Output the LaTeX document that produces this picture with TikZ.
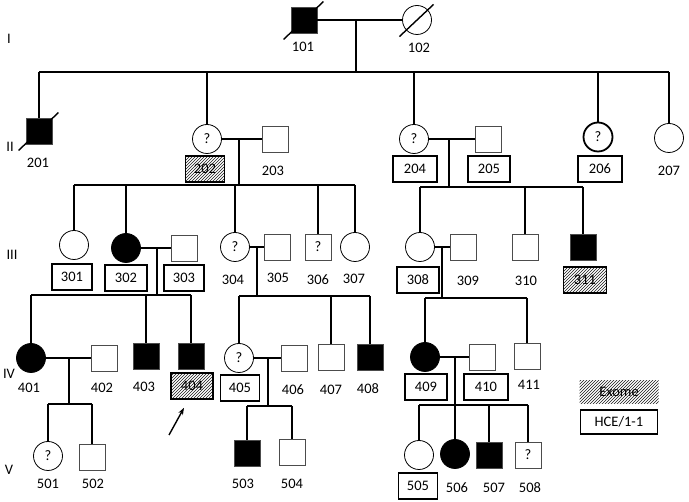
\documentclass[tikz,border=0pt]{standalone}
\usepackage{fontspec}
\setmainfont{Carlito}
\usetikzlibrary{arrows.meta,patterns}
\newcommand{\deceased}[1]{\draw[line width=1.4pt] ([shift={(-7,6)}]#1.south west) -- ([shift={(6,-5)}]#1.north east);}

\begin{document}
\begin{tikzpicture}[x=1pt, y=-1pt, font=\fontsize{14.5}{17}\selectfont,
  ind/.style={draw=black!70, line width=0.8pt, inner sep=0pt},
  male/.style={ind, rectangle, minimum size=26pt},
  female/.style={ind, circle, draw=black, minimum size=29pt},
  aff/.style={fill=black},
  idbox/.style={draw, line width=1.6pt, minimum width=42pt, minimum height=26pt, inner sep=0pt},
  exome/.style={idbox, pattern=north east lines, pattern color=black!90},
  lbl/.style={inner sep=0pt},
  gen/.style={inner sep=0pt},
  ln/.style={line width=1.7pt}]
  \useasboundingbox (0,0) rectangle (689,502);

  % generation labels
  \node[gen] (gI) at (9,39) {I};
  \node[gen] (gII) at (10,147) {II};
  \node[gen] (gIII) at (12,255) {III};
  \node[gen] (gIV) at (9,374) {IV};
  \node[gen] (gV) at (9,470) {V};

  % generation I
  \node[male, aff] (p101) at (304,20) {};
  \node[female] (p102) at (417,20) {};
  \node[lbl] (l101) at (303,47) {101};
  \node[lbl] (l102) at (419,48) {102};
  \deceased{p101}
  \deceased{p102}
  \coordinate (m1) at (356,20);
  \coordinate (s1) at (356,72);
  \draw[ln] (p101) -- (p102);
  \draw[ln] (m1) -- (s1);

  % generation II
  \node[male, aff] (p201) at (39,131) {};
  \node[lbl] (l201) at (38,163) {201};
  \deceased{p201}
  \node[female] (p202) at (207,139) {?};
  \node[exome, minimum width=39pt] (b202) at (205,169) {202};
  \node[male] (p203) at (275,139) {};
  \node[lbl] (l203) at (273,171) {203};
  \node[female] (p204) at (414,139) {?};
  \node[idbox, minimum width=44pt] (b204) at (415,169) {204};
  \node[male] (p205) at (488,139) {};
  \node[idbox] (b205) at (489,169) {205};
  \node[female, line width=1.8pt] (p206) at (598,137) {?};
  \node[idbox, minimum width=44pt] (b206) at (600,169) {206};
  \node[female] (p207) at (669,138) {};
  \node[lbl] (l207) at (669,171) {207};
  \draw[ln] (p201 |- s1) -- (p207 |- s1);
  \draw[ln] (p201 |- s1) -- (p201) (p202 |- s1) -- (p202)
    (p204 |- s1) -- (p204) (p206 |- s1) -- (p206) (p207 |- s1) -- (p207);

  \coordinate (m202) at (239,139);
  \coordinate (s202) at (239,185);
  \coordinate (m204) at (449,139);
  \coordinate (s204) at (449,187);
  \draw[ln] (p202) -- (p203);
  \draw[ln] (m202) -- (s202);
  \draw[ln] (p204) -- (p205);
  \draw[ln] (m204) -- (s204);

  % generation III
  \node[female] (p301) at (74,245) {};
  \node[idbox, minimum width=40pt] (b301) at (72,277) {301};
  \node[female, aff] (p302) at (126,248) {};
  \node[idbox] (b302) at (126,278) {302};
  \node[male] (p303) at (184,248) {};
  \node[idbox, minimum width=40pt] (b303) at (184,278) {303};
  \node[female] (p304) at (235,247) {?};
  \node[lbl] (l304) at (233,280) {304};
  \node[male] (p305) at (277,247) {};
  \node[lbl] (l305) at (278,278) {305};
  \node[male] (p306) at (318,247) {?};
  \node[lbl] (l306) at (318,280) {306};
  \node[female] (p307) at (355,247) {};
  \node[lbl] (l307) at (354,279) {307};
  \node[female] (p308) at (420,247) {};
  \node[idbox] (b308) at (418,280) {308};
  \node[male] (p309) at (463,247) {};
  \node[lbl] (l309) at (468,281) {309};
  \node[male] (p310) at (525,247) {};
  \node[lbl] (l310) at (526,281) {310};
  \node[male, aff] (p311) at (583,247) {};
  \node[exome, minimum width=43pt] (b311) at (585,280) {311};
  \draw[ln] (p301 |- s202) -- (p307 |- s202);
  \draw[ln] (p301 |- s202) -- (p301) (p302 |- s202) -- (p302)
    (p304 |- s202) -- (p304) (p306 |- s202) -- (p306) (p307 |- s202) -- (p307);
  \draw[ln] (p308 |- s204) -- (p311 |- s204);
  \draw[ln] (p308 |- s204) -- (p308) (p310 |- s204) -- (p310) (p311 |- s204) -- (p311);

  \coordinate (m302) at (157,248);
  \coordinate (s302) at (157,295);
  \coordinate (m304) at (257,247);
  \coordinate (s304) at (257,296);
  \coordinate (m308) at (442,247);
  \coordinate (s308) at (442,298);
  \draw[ln] (p302) -- (p303);
  \draw[ln] (m302) -- (s302);
  \draw[ln] (p304) -- (p305);
  \draw[ln] (m304) -- (s304);
  \draw[ln] (p308) -- (p309);
  \draw[ln] (m308) -- (s308);

  % generation IV
  \node[female, aff] (p401) at (31,358) {};
  \node[lbl] (l401) at (29,388) {401};
  \node[male] (p402) at (104,358) {};
  \node[lbl] (l402) at (102,388) {402};
  \node[male, aff] (p403) at (146,356) {};
  \node[lbl] (l403) at (144,387) {403};
  \node[male, aff] (p404) at (191,356) {};
  \node[exome] (b404) at (192,386) {404};
  \node[female] (p405) at (239,358) {?};
  \node[idbox, minimum width=39pt] (b405) at (240,388) {405};
  \node[male] (p406) at (294,358) {};
  \node[lbl] (l406) at (293,390) {406};
  \node[male] (p407) at (331,357) {};
  \node[lbl] (l407) at (331,390) {407};
  \node[male, aff] (p408) at (370,357) {};
  \node[lbl] (l408) at (368,389) {408};
  \node[female, aff] (p409) at (425,357) {};
  \node[idbox] (b409) at (426,387) {409};
  \node[male] (p410) at (482,357) {};
  \node[idbox, minimum width=44pt] (b410) at (486,387) {410};
  \node[male] (p411) at (527,356) {};
  \node[lbl] (l411) at (529,385) {411};
  \draw[ln] (p401 |- s302) -- (p404 |- s302);
  \draw[ln] (p401 |- s302) -- (p401) (p403 |- s302) -- (p403) (p404 |- s302) -- (p404);
  \draw[ln] (p405 |- s304) -- (p408 |- s304);
  \draw[ln] (p405 |- s304) -- (p405) (p407 |- s304) -- (p407) (p408 |- s304) -- (p408);
  \draw[ln] (p409 |- s308) -- (p411 |- s308);
  \draw[ln] (p409 |- s308) -- (p409) (p411 |- s308) -- (p411);

  \coordinate (a404) at (169,435);
  \draw[line width=1.4pt, -{Stealth[length=7pt, width=5pt]}] (a404) -- ([shift={(-8,8)}]b404.south);

  \coordinate (m401) at (69,358);
  \coordinate (s401) at (69,404);
  \coordinate (m405) at (268,358);
  \coordinate (s405) at (268,406);
  \coordinate (m409) at (455,357);
  \coordinate (s409) at (455,405);
  \draw[ln] (p401) -- (p402);
  \draw[ln] (m401) -- (s401);
  \draw[ln] (p405) -- (p406);
  \draw[ln] (m405) -- (s405);
  \draw[ln] (p409) -- (p410);
  \draw[ln] (m409) -- (s409);

  % generation V
  \node[female] (p501) at (48,456) {?};
  \node[lbl] (l501) at (48,484) {501};
  \node[male] (p502) at (92,457) {};
  \node[lbl] (l502) at (93,484) {502};
  \node[male, aff] (p503) at (247,453) {};
  \node[lbl] (l503) at (243,484) {503};
  \node[male] (p504) at (292,452) {};
  \node[lbl] (l504) at (292,484) {504};
  \node[female] (p505) at (419,455) {};
  \node[idbox, minimum width=39pt] (b505) at (418,486) {505};
  \node[female, aff] (p506) at (455,454) {};
  \node[lbl] (l506) at (457,488) {506};
  \node[male, aff] (p507) at (489,455) {};
  \node[lbl] (l507) at (494,488) {507};
  \node[male] (p508) at (528,455) {?};
  \node[lbl] (l508) at (530,488) {508};
  \draw[ln] (p501 |- s401) -- (p502 |- s401);
  \draw[ln] (p501 |- s401) -- (p501) (p502 |- s401) -- (p502);
  \draw[ln] (p503 |- s405) -- (p504 |- s405);
  \draw[ln] (p503 |- s405) -- (p503) (p504 |- s405) -- (p504);
  \draw[ln] (p505 |- s409) -- (p508 |- s409);
  \draw[ln] (p505 |- s409) -- (p505) (p506 |- s409) -- (p506)
    (p507 |- s409) -- (p507) (p508 |- s409) -- (p508);

  % legend
  \node[exome, draw=none, minimum width=79pt, minimum height=23pt] (lgex) at (619,392) {Exome};
  \node[idbox, line width=1.3pt, minimum width=77pt, minimum height=24pt] (lghce) at (619,422) {HCE/1-1};
\end{tikzpicture}
\end{document}
